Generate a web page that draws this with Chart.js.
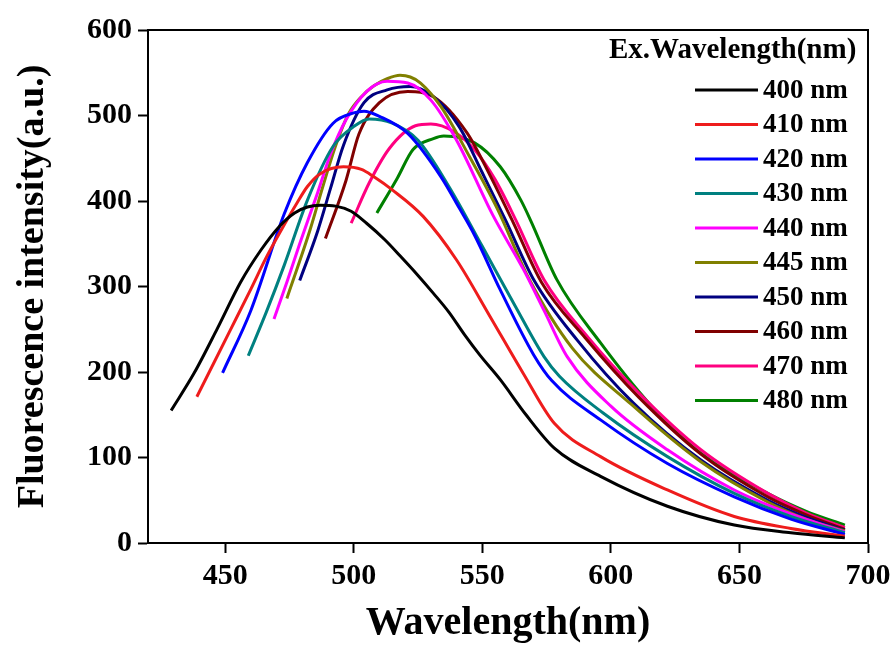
<!DOCTYPE html>
<html>
<head>
<meta charset="utf-8">
<script src="https://cdn.jsdelivr.net/npm/chart.js@4.4.1/dist/chart.umd.min.js"></script>
<style>
  html, body { margin: 0; padding: 0; background: #fff; }
  canvas { display: block; }
</style>
</head>
<body>
<canvas id="spectra" width="896" height="648"></canvas>
<script>
// Emission spectra: [wavelength nm, intensity a.u.]
const em400 = [[429,155],[438,199],[447,251],[456,305],[464,343],[471,370],[477,386],[482,393],[487,395],[493,394],[499,388],[505,374],[512,355],[518,336],[525,313],[531,292],[537,270],[543,244],[549,220],[557,191],[567,150],[578,111],[596,78],[622,43],[648,21],[670,12],[691,6]];
const em410 = [[439,171],[445,207],[452,249],[460,297],[466,334],[472,367],[478,398],[482,417],[487,432],[496,440],[503,437],[508,428],[515,413],[527,382],[540,331],[553,265],[566,198],[578,140],[596,101],[622,62],[648,31],[670,17],[691,8]];
const em420 = [[449,199],[460,272],[473,385],[482,445],[492,491],[500,503],[504,505],[510,499],[521,479],[534,428],[541,392],[547,360],[557,296],[570,220],[577,190],[596,144],[622,93],[648,54],[670,28],[691,10]];
const em430 = [[459,219],[466,270],[473,325],[482,401],[492,464],[500,487],[506,496],[515,491],[525,471],[537,417],[550,347],[563,276],[574,218],[580,195],[597,152],[622,101],[648,58],[670,31],[691,12]];
const em440 = [[469,262],[474,305],[479,350],[486,410],[491,455],[497,495],[505,528],[513,540],[521,538],[530,518],[540,471],[554,384],[566,320],[574,272],[583,218],[600,160],[622,109],[648,62],[670,34],[691,13]];
const em445 = [[474,286],[483,366],[488,417],[493,465],[498,502],[503,522],[508,535],[513,543],[518,547],[522,545],[526,538],[534,510],[545,452],[556,390],[568,310],[585,228],[608,162],[635,95],[661,48],[676,28],[691,14]];
const em450 = [[479,307],[486,365],[491,415],[496,465],[504,515],[513,530],[522,534],[531,522],[541,487],[550,433],[559,378],[570,308],[587,237],[609,163],[635,97],[661,50],[676,30],[691,15]];
const em460 = [[489,356],[497,424],[502,478],[510,515],[521,528],[531,522],[544,480],[553,430],[562,375],[573,305],[590,240],[611,170],[635,104],[661,54],[676,33],[691,16]];
const em470 = [[499,374],[506,421],[514,462],[524,488],[530,490],[539,481],[547,460],[555,425],[563,378],[574,308],[591,241],[611,175],[635,109],[661,58],[676,35],[691,18]];
const em480 = [[509,386],[517,427],[523,460],[531,473],[535,476],[547,468],[557,440],[565,401],[569,376],[579,308],[596,234],[615,163],[635,105],[661,58],[676,37],[691,21]];

const seriesLabels = ["400 nm", "410 nm", "420 nm", "430 nm", "440 nm", "445 nm", "450 nm", "460 nm", "470 nm", "480 nm"];
const seriesData = [em400, em410, em420, em430, em440, em445, em450, em460, em470, em480];
const seriesColors = ["#000000", "#ee1c1c", "#0000ff", "#008080", "#ff00ff", "#808000", "#000080", "#800000", "#ff0080", "#008000"];

const xTicks = [450, 500, 550, 600, 650, 700];
const yTicks = [0, 100, 200, 300, 400, 500, 600];

const SERIF = "'Liberation Serif', 'Times New Roman', serif";

// frame around the plot area
const frame = {
  id: "frame",
  afterDatasetsDraw(chart) {
    const { ctx, chartArea: a } = chart;
    ctx.save();
    ctx.strokeStyle = "#000";
    ctx.lineWidth = 2;
    ctx.strokeRect(a.left, a.top, a.right - a.left, a.bottom - a.top);
    ctx.restore();
  },
};

// legend with heading, right-aligned inside the plot
const spectraLegend = {
  id: "spectraLegend",
  afterDraw(chart) {
    const { ctx } = chart;
    ctx.save();
    ctx.fillStyle = "#000";
    ctx.textBaseline = "middle";
    ctx.font = `bold 29px ${SERIF}`;
    ctx.textAlign = "left";
    ctx.fillText("Ex.Wavelength(nm)", 609, 51);
    ctx.font = `bold 27px ${SERIF}`;
    chart.data.datasets.forEach((ds, i) => {
      const y = 90 + i * 34.5;
      ctx.strokeStyle = ds.borderColor;
      ctx.lineWidth = 3;
      ctx.beginPath();
      ctx.moveTo(695, y);
      ctx.lineTo(758, y);
      ctx.stroke();
      ctx.fillText(ds.label, 763, y + 1);
    });
    ctx.restore();
  },
};

new Chart(document.getElementById("spectra"), {
  type: "line",
  data: {
    datasets: seriesData.map((pts, i) => ({
      label: seriesLabels[i],
      data: pts.map(([x, y]) => ({ x, y })),
      borderColor: seriesColors[i],
      backgroundColor: seriesColors[i],
      borderWidth: 3,
      pointRadius: 0,
      cubicInterpolationMode: "monotone",
      fill: false,
    })),
  },
  options: {
    responsive: false,
    devicePixelRatio: 1,
    animation: false,
    layout: { padding: { top: 30, right: 28, left: 0, bottom: 0 } },
    plugins: { legend: { display: false }, tooltip: { enabled: false } },
    scales: {
      x: {
        type: "linear",
        min: 420,
        max: 700,
        afterBuildTicks: (s) => { s.ticks = xTicks.map((v) => ({ value: v })); },
        afterFit: (s) => { s.height = 105; },
        grid: { drawOnChartArea: false, drawTicks: true, tickLength: 10, tickWidth: 2, color: "#000" },
        border: { display: true, color: "#000", width: 2 },
        ticks: { color: "#000", padding: 5, font: { family: SERIF, size: 30, weight: "bold" } },
        title: {
          display: true,
          text: "Wavelength(nm)",
          color: "#000",
          padding: { top: 0, bottom: 0 },
          font: { family: SERIF, size: 40, weight: "bold" },
        },
      },
      y: {
        type: "linear",
        min: 0,
        max: 600,
        afterBuildTicks: (s) => { s.ticks = yTicks.map((v) => ({ value: v })); },
        afterFit: (s) => { s.width = 148; },
        grid: { drawOnChartArea: false, drawTicks: true, tickLength: 10, tickWidth: 2, color: "#000" },
        border: { display: true, color: "#000", width: 2 },
        ticks: { color: "#000", padding: 6, font: { family: SERIF, size: 30, weight: "bold" } },
        title: {
          display: true,
          text: "Fluorescence intensity(a.u.)",
          color: "#000",
          padding: { top: 10, bottom: 0 },
          font: { family: SERIF, size: 38, weight: "bold" },
        },
      },
    },
  },
  plugins: [frame, spectraLegend],
});
</script>
</body>
</html>
